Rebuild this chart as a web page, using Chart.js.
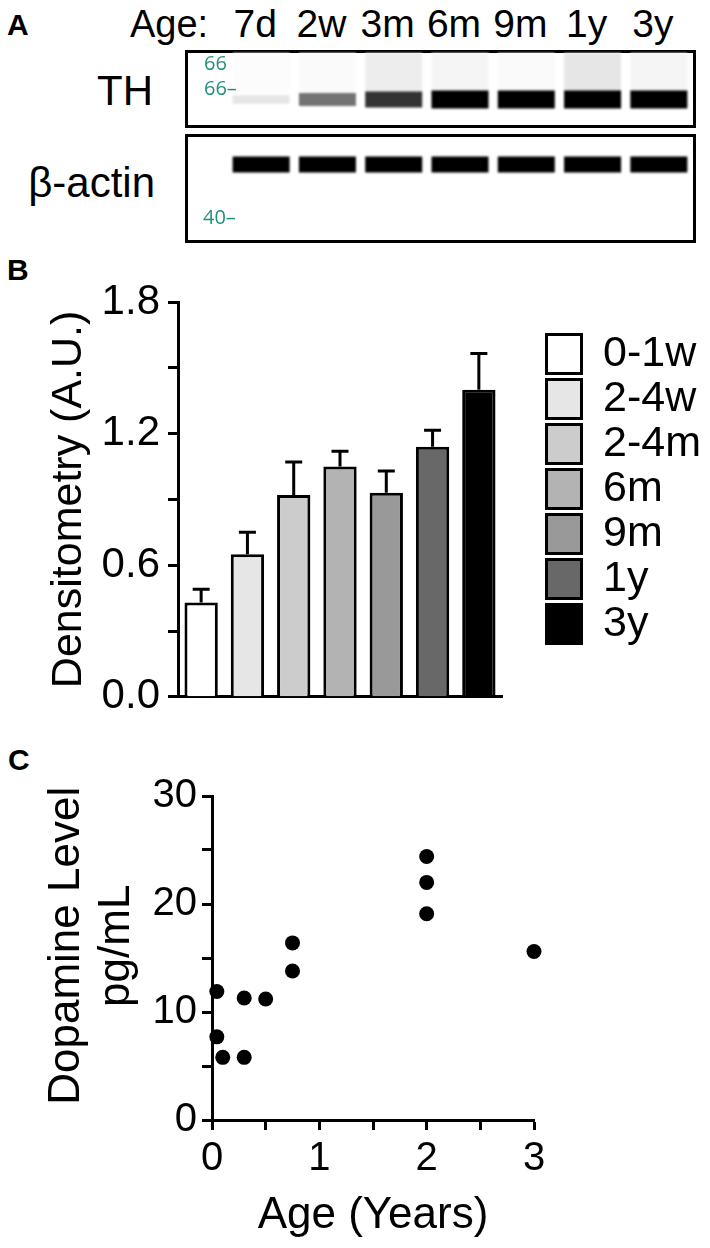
<!DOCTYPE html>
<html>
<head>
<meta charset="utf-8">
<title>TH and dopamine by age</title>
<script src="https://cdn.jsdelivr.net/npm/chart.js@4.4.0/dist/chart.umd.min.js"></script>
<style>
  body { margin: 0; background: #fff; }
  #page {
    position: relative; width: 710px; height: 1248px; overflow: hidden;
    font-family: "Liberation Sans", Arial, sans-serif; color: #000;
  }
  .txt { position: absolute; white-space: nowrap; line-height: 1; }
  .panel { font-weight: 700; font-size: 30px; }
  .big { font-size: 42px; }
  .lane { font-size: 39px; transform: translateX(-50%); }
  .blotBox { position: absolute; border: 3px solid #000; box-sizing: border-box; }
  .mw { position: absolute; color: #23907d; font-family: "Open Sans", sans-serif; font-size: 20px; line-height: 1; }
  canvas { position: absolute; }
  #blot { filter: blur(0.9px); }
</style>
</head>
<body>
<div id="page">
  <div class="txt panel" style="left:7px;top:10px">A</div>
  <div class="txt" style="left:130px;top:5px;font-size:38px">Age:</div>
  <div id="laneLabels"></div>
  <div class="txt big" style="right:557px;top:70px">TH</div>
  <div class="txt big" style="right:555px;top:162px">&beta;-actin</div>

  <div class="blotBox" style="left:185px;top:50px;width:511px;height:78px"></div>
  <div class="blotBox" style="left:185px;top:134px;width:511px;height:109px"></div>
  <canvas id="blot" width="504" height="186" style="left:188px;top:53px"></canvas>
  <div class="mw" style="left:204px;top:53px">66</div>
  <div class="mw" style="left:204px;top:78px">66&ndash;</div>
  <div class="mw" style="left:203px;top:207px">40&ndash;</div>

  <div class="txt panel" style="left:7px;top:255px">B</div>
  <canvas id="densityChart" width="710" height="480" style="left:0;top:250px"></canvas>

  <div class="txt panel" style="left:8px;top:745px">C</div>
  <canvas id="dopamineChart" width="710" height="488" style="left:0;top:760px"></canvas>
</div>

<script>
// --- data ---
const lanes = ['7d', '2w', '3m', '6m', '9m', '1y', '3y'];
const thSignal = [0.10, 0.55, 0.80, 1.00, 1.00, 1.00, 1.00];
const actinSignal = [1.00, 1.00, 1.00, 1.00, 1.00, 1.00, 1.00];
const thLaneHaze = [0.01, 0.02, 0.07, 0.04, 0.02, 0.10, 0.04];

const ageGroups = ['0-1w', '2-4w', '2-4m', '6m', '9m', '1y', '3y'];
const thDensity = [0.43, 0.65, 0.92, 1.05, 0.93, 1.14, 1.40];
const thSem = [0.06, 0.10, 0.15, 0.07, 0.10, 0.075, 0.165];
const densityTicks = [0, 0.6, 1.2, 1.8];

const ageYears = [0.045, 0.045, 0.10, 0.30, 0.30, 0.50, 0.75, 0.75, 2.0, 2.0, 2.0, 3.0];
const dopamine = [11.9, 7.7, 5.8, 11.3, 5.8, 11.2, 16.4, 13.8, 24.4, 22.0, 19.1, 15.6];
const dopamineTicks = [0, 10, 20, 30];
const ageTicks = [0, 1, 2, 3];

// greys for the bars, white -> black
const barGreys = ['#ffffff', '#e6e6e6', '#cccccc', '#b3b3b3', '#999999', '#686868', '#000000'];

Chart.defaults.font.family = '"Liberation Sans", Arial, sans-serif';
Chart.defaults.color = '#000';
Chart.defaults.animation = false;

const isTick = (list, v) => list.some(t => Math.abs(t - v) < 1e-6);
const grey = s => {
  const v = Math.round(255 * (1 - s));
  return `rgb(${v},${v},${v})`;
};

// ---------- A: capillary blot lanes ----------
const TH_ROW = 25;      // band row on the migration scale
const ACTIN_ROW = 60;

const blotChart = new Chart(document.getElementById('blot'), {
  type: 'bar',
  data: {
    labels: lanes,
    datasets: [
      {
        data: thSignal.map(s => [TH_ROW - (2 + 2.8 * s), TH_ROW + (2 + 2.8 * s)]),
        backgroundColor: thSignal.map(grey),
        order: 0
      },
      {
        data: actinSignal.map(s => [ACTIN_ROW - 4.3 * s, ACTIN_ROW + 4.3 * s]),
        backgroundColor: actinSignal.map(grey),
        order: 0
      },
      {
        data: thLaneHaze.map(() => [0, TH_ROW]),
        backgroundColor: thLaneHaze.map(grey),
        order: 1
      }
    ]
  },
  options: {
    responsive: false,
    devicePixelRatio: 1,
    layout: { padding: { left: 40, right: 0, top: 0, bottom: 0 } },
    datasets: {
      bar: { grouped: false, barPercentage: 0.86, categoryPercentage: 1, borderWidth: 0 }
    },
    plugins: { legend: { display: false }, tooltip: { enabled: false } },
    scales: {
      x: { display: false, offset: true },
      y: { display: false, min: 0, max: 100, reverse: true }
    }
  }
});

// lane labels sit over the lanes (set slightly left, as in the figure)
const laneBox = document.getElementById('laneLabels');
lanes.forEach((name, i) => {
  const el = document.createElement('div');
  el.className = 'txt lane';
  el.style.top = '4px';
  el.style.left = (188 - 6 + blotChart.scales.x.getPixelForValue(i)) + 'px';
  el.textContent = name;
  laneBox.appendChild(el);
});

// ---------- B: densitometry bars ----------
const errorBars = {
  id: 'errorBars',
  afterDatasetsDraw(chart) {
    const ctx = chart.ctx;
    const y = chart.scales.y;
    ctx.save();
    ctx.strokeStyle = '#000';
    ctx.lineWidth = 3;
    chart.getDatasetMeta(0).data.forEach((bar, i) => {
      const top = y.getPixelForValue(thDensity[i] + thSem[i]);
      ctx.beginPath();
      ctx.moveTo(bar.x, bar.y);
      ctx.lineTo(bar.x, top);
      ctx.moveTo(bar.x - 8.5, top);
      ctx.lineTo(bar.x + 8.5, top);
      ctx.stroke();
    });
    ctx.restore();
  }
};

// legend sits in its own column right of the plot
const legendSpot = {
  id: 'legendSpot',
  afterInit(chart) {
    const legend = chart.legend;
    const fit = legend.fit;
    legend.fit = function () {
      fit.call(this);
      this.width = 208;
    };
  },
  afterLayout(chart) {
    const legend = chart.legend;
    legend.left = 544.5;
    legend.right = legend.left + legend.width;
    legend.top = 80.5;
    legend.bottom = legend.top + legend.height;
  }
};

const axisLine = { display: true, color: '#000', width: 3 };
const tickMarks = { drawOnChartArea: false, drawTicks: true, tickLength: 10, tickWidth: 3, tickColor: '#000' };

new Chart(document.getElementById('densityChart'), {
  type: 'bar',
  data: {
    labels: ageGroups,
    datasets: [{
      data: thDensity,
      backgroundColor: barGreys,
      borderColor: '#000',
      borderWidth: 3,
      barPercentage: 0.72,
      categoryPercentage: 1
    }]
  },
  options: {
    responsive: false,
    devicePixelRatio: 1,
    layout: { padding: { top: 52, right: 0, bottom: 0, left: 0 } },
    plugins: {
      tooltip: { enabled: false },
      legend: {
        position: 'right',
        align: 'start',
        labels: {
          boxWidth: 35,
          boxHeight: 39,
          padding: 2,
          font: { size: 43 },
          color: '#000',
          generateLabels: () => ageGroups.map((g, i) => ({
            text: g,
            fillStyle: barGreys[i],
            strokeStyle: '#000',
            lineWidth: 3,
            hidden: false,
            index: i,
            datasetIndex: 0
          }))
        }
      }
    },
    scales: {
      x: {
        grid: { display: false },
        border: axisLine,
        ticks: { display: false },
        afterFit: s => { s.height = 25; }
      },
      y: {
        min: 0,
        max: 1.8,
        border: axisLine,
        grid: tickMarks,
        ticks: {
          stepSize: 0.3,
          autoSkip: false,
          padding: 8,
          font: { size: 42 },
          callback: v => isTick(densityTicks, v) ? v.toFixed(1) : ''
        },
        title: {
          display: true,
          text: 'Densitometry (A.U.)',
          font: { size: 43, lineHeight: 1.2 },
          padding: { top: 43, bottom: 0 }
        },
        afterFit: s => { s.width = 178; }
      }
    }
  },
  plugins: [errorBars, legendSpot]
});

// ---------- C: dopamine vs age ----------
new Chart(document.getElementById('dopamineChart'), {
  type: 'scatter',
  data: {
    datasets: [{
      data: ageYears.map((a, i) => ({ x: a, y: dopamine[i] })),
      backgroundColor: '#000',
      borderWidth: 0,
      pointRadius: 7.5,
      pointHoverRadius: 7.5,
      clip: false
    }]
  },
  options: {
    responsive: false,
    devicePixelRatio: 1,
    layout: { padding: { top: 36, right: 176, bottom: 0, left: 0 } },
    plugins: { legend: { display: false }, tooltip: { enabled: false } },
    scales: {
      x: {
        type: 'linear',
        min: 0,
        max: 3,
        border: axisLine,
        grid: tickMarks,
        ticks: {
          stepSize: 0.5,
          autoSkip: false,
          maxRotation: 0,
          padding: 5,
          font: { size: 40 },
          callback: v => isTick(ageTicks, v) ? String(v) : ''
        },
        title: {
          display: true,
          text: 'Age (Years)',
          font: { size: 44, lineHeight: 1.2 },
          padding: { top: 0, bottom: 6 }
        },
        afterFit: s => { s.height = 128; }
      },
      y: {
        min: 0,
        max: 30,
        border: axisLine,
        grid: tickMarks,
        ticks: {
          stepSize: 5,
          autoSkip: false,
          padding: 5,
          font: { size: 40 },
          callback: v => isTick(dopamineTicks, v) ? String(v) : ''
        },
        title: {
          display: true,
          // leading spaces lift the rotated title a little above the axis centre, as in the figure
          text: ['  Dopamine Level', '  pg/mL'],
          font: { size: 44, lineHeight: 1.14 },
          padding: { top: 42, bottom: 0 }
        },
        afterFit: s => { s.width = 212; }
      }
    }
  }
});
</script>
</body>
</html>
